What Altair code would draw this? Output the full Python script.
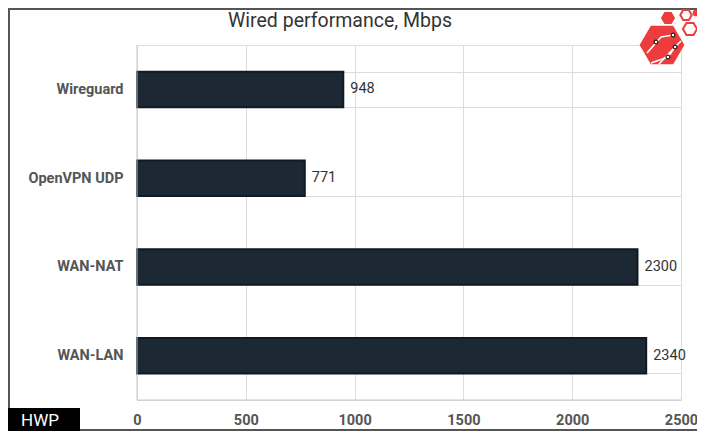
import altair as alt
import pandas as pd

categories = ["Wireguard", "OpenVPN UDP", "WAN-NAT", "WAN-LAN"]
values = [948, 771, 2300, 2340]
x_ticks = [0, 500, 1000, 1500, 2000, 2500]

df = pd.DataFrame({"cat": categories, "val": values})

W, H = 544, 355

y_enc = alt.Y("cat:N", sort=categories, title=None,
              scale=alt.Scale(paddingInner=0.6, paddingOuter=0.3),
              axis=alt.Axis(tickBand="extent", grid=True, gridColor="#dcdcdc",
                            ticks=False, domain=False,
                            labelFont="Roboto", labelFontWeight="bold", labelFontSize=14.5,
                            labelColor="#555555", labelPadding=14))
x_enc = alt.X("val:Q", title=None,
              scale=alt.Scale(domain=[0, 2500], nice=False),
              axis=alt.Axis(values=x_ticks, format="d", grid=True, gridColor="#dcdcdc",
                            ticks=False, domain=False, labelFlush=False,
                            labelFont="Roboto", labelFontWeight="bold", labelFontSize=14.5,
                            labelColor="#555555", labelPadding=13))

bars = alt.Chart(df).mark_bar(color="#1c2833", stroke="#111a22", strokeWidth=2).encode(
    x=x_enc, y=y_enc)

labels = alt.Chart(df).mark_text(align="left", baseline="middle", dx=7,
                                 font="Roboto", fontSize=14.5, color="#333333").encode(
    x="val:Q", y=alt.Y("cat:N", sort=categories), text="val:Q")

frame_df = pd.DataFrame({"a": [0]})
base = alt.Chart(frame_df)

left_line = base.mark_rule(color="#c8c8c8", strokeWidth=1).encode(
    x=alt.value(0), y=alt.value(0), y2=alt.value(H))
bottom_line = base.mark_rule(color="#c8c8c8", strokeWidth=1).encode(
    x=alt.value(0), x2=alt.value(W), y=alt.value(H))

title = base.mark_text(text="Wired performance, Mbps", font="Roboto", fontSize=19.5,
                       color="#333333", align="center", baseline="middle").encode(
    x=alt.value(203), y=alt.value(-24))

frame_top = base.mark_rule(color="#555555", strokeWidth=2).encode(
    x=alt.value(-129), x2=alt.value(W + 16), y=alt.value(-36))
frame_left = base.mark_rule(color="#555555", strokeWidth=2).encode(
    x=alt.value(-128), y=alt.value(-37), y2=alt.value(H + 31))
frame_bottom = base.mark_rule(color="#555555", strokeWidth=2).encode(
    x=alt.value(-129), x2=alt.value(W + 16), y=alt.value(H + 30))

hwp_box = base.mark_rect(color="#000000").encode(
    x=alt.value(-130), x2=alt.value(-57), y=alt.value(363), y2=alt.value(H + 40))
hwp_text = base.mark_text(text="HWP", font="Roboto", fontSize=17, color="#ffffff",
                          align="center", baseline="middle").encode(
    x=alt.value(-97), y=alt.value(376))

hexagon = "M-1,0L-0.5,-0.866L0.5,-0.866L1,0L0.5,0.866L-0.5,0.866Z"
logo_df = pd.DataFrame({
    "px": [525, 531, 549, 553],
    "py": [0, -27, -30, -16],
    "sz": [2000, 200, 130, 200],
    "filled": [True, True, False, False],
})
logo_filled = alt.Chart(logo_df[logo_df.filled]).mark_point(
    shape=hexagon, filled=True, color="#ee3b3b", opacity=1).encode(
    x=alt.X("px:Q", scale=None), y=alt.Y("py:Q", scale=None),
    size=alt.Size("sz:Q", scale=None, legend=None))
logo_outline = alt.Chart(logo_df[~logo_df.filled]).mark_point(
    shape=hexagon, filled=False, stroke="#ee3b3b", strokeWidth=2, opacity=1).encode(
    x=alt.X("px:Q", scale=None), y=alt.Y("py:Q", scale=None),
    size=alt.Size("sz:Q", scale=None, legend=None))
dot_df = pd.DataFrame({"px": [559], "py": [-32]})
logo_dot = alt.Chart(dot_df).mark_circle(color="#ee3b3b", opacity=1, size=45).encode(
    x=alt.X("px:Q", scale=None), y=alt.Y("py:Q", scale=None))

wire_df = pd.DataFrame({
    "x1": [510, 524, 514, 531, 522, 538],
    "y1": [8, -8, 18, 12, 19, 2],
    "x2": [524, 536, 531, 538, 538, 544],
    "y2": [-8, -10, 12, 2, 2, -4],
})
logo_wires = alt.Chart(wire_df).mark_rule(color="#ffffff", strokeWidth=1.6).encode(
    x=alt.X("x1:Q", scale=None), x2="x2:Q",
    y=alt.Y("y1:Q", scale=None), y2="y2:Q")
circ_df = pd.DataFrame({"px": [519, 536, 538, 531], "py": [-3, -10, 2, 12]})
logo_circ = alt.Chart(circ_df).mark_circle(color="#ffffff", stroke="#222222",
                                           strokeWidth=1.2, opacity=1, size=14).encode(
    x=alt.X("px:Q", scale=None), y=alt.Y("py:Q", scale=None))

chart = alt.layer(
    bars, labels, left_line, bottom_line, title, frame_top, frame_left, frame_bottom,
    hwp_box, hwp_text,
    logo_filled, logo_outline, logo_dot, logo_wires, logo_circ
).properties(
    width=W, height=H,
    autosize=alt.AutoSizeParams(type="none"),
    padding={"left": 129, "top": 37, "right": 16, "bottom": 31},
).configure_view(stroke=None).configure(background="#ffffff")

chart.save("out.html", embed_options={"renderer": "svg", "actions": False})
